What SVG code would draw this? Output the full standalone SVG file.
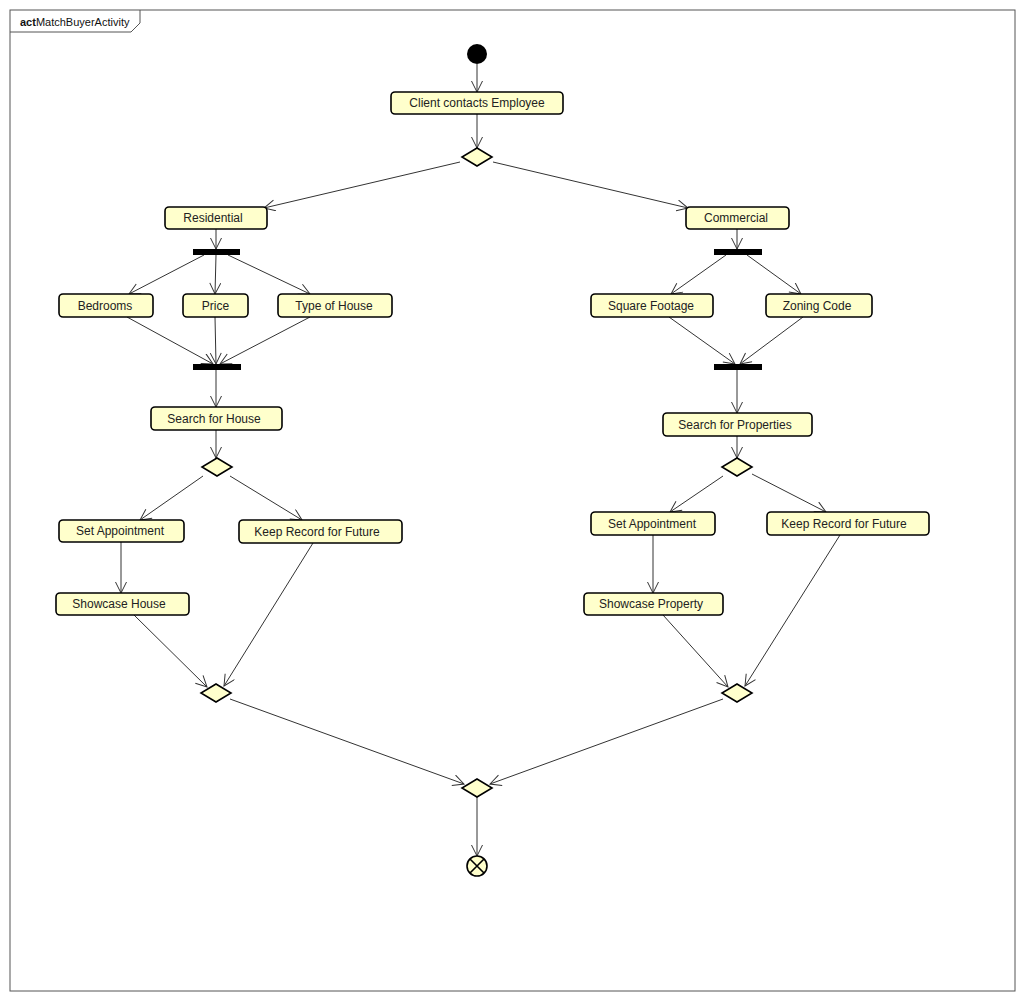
<svg xmlns="http://www.w3.org/2000/svg" width="1024" height="1000" viewBox="0 0 1024 1000">
<style>
.n{fill:#ffffcc;stroke:#000;stroke-width:1.6}
.t{font-family:"Liberation Sans",Arial,sans-serif;font-size:12px;fill:#222;text-anchor:middle;dominant-baseline:central}
.b{fill:#000}
.e{fill:none;stroke:#333;stroke-width:1;marker-end:url(#a)}
</style>
<defs>
<marker id="a" markerUnits="userSpaceOnUse" markerWidth="14" markerHeight="14" refX="12" refY="6" orient="auto">
<path d="M1,0.5 L12,6 L1,11.5" fill="none" stroke="#333" stroke-width="1"/>
</marker>
</defs>
<rect width="1024" height="1000" fill="#fff"/>
<g id="frame">
<rect x="10" y="10" width="1005" height="981" fill="none" stroke="#555" stroke-width="1"/>
<path d="M10,32 L131,32 L140,23 L140,10" fill="none" stroke="#555" stroke-width="1"/>
<text x="20" y="22" font-family="Liberation Sans,Arial,sans-serif" font-size="11" fill="#111" dominant-baseline="central"><tspan font-weight="bold">act</tspan>MatchBuyerActivity</text>
</g>
<g id="connectors">
<line class="e" x1="477" y1="64" x2="477" y2="92"/>
<line class="e" x1="477" y1="114" x2="477" y2="148"/>
<line class="e" x1="460" y1="162" x2="264" y2="208"/>
<line class="e" x1="493" y1="162" x2="688" y2="208"/>
<line class="e" x1="216" y1="229" x2="216" y2="249"/>
<line class="e" x1="204" y1="255" x2="129" y2="294"/>
<line class="e" x1="216" y1="255" x2="215" y2="294"/>
<line class="e" x1="228" y1="255" x2="310" y2="294"/>
<line class="e" x1="127" y1="317" x2="213" y2="364"/>
<line class="e" x1="215" y1="317" x2="216" y2="364"/>
<line class="e" x1="310" y1="317" x2="220" y2="364"/>
<line class="e" x1="216" y1="370" x2="216" y2="407"/>
<line class="e" x1="216" y1="430" x2="216" y2="458"/>
<line class="e" x1="203" y1="476" x2="140" y2="520"/>
<line class="e" x1="230" y1="476" x2="302" y2="520"/>
<line class="e" x1="121" y1="542" x2="121" y2="593"/>
<line class="e" x1="134" y1="615" x2="207" y2="687"/>
<line class="e" x1="313" y1="543" x2="224" y2="686"/>
<line class="e" x1="230" y1="699" x2="464" y2="784"/>
<line class="e" x1="723" y1="699" x2="490" y2="784"/>
<line class="e" x1="477" y1="797" x2="477" y2="856"/>
<line class="e" x1="737" y1="229" x2="737" y2="249"/>
<line class="e" x1="726" y1="255" x2="671" y2="294"/>
<line class="e" x1="747" y1="255" x2="801" y2="294"/>
<line class="e" x1="669" y1="317" x2="735" y2="364"/>
<line class="e" x1="803" y1="317" x2="740" y2="364"/>
<line class="e" x1="737" y1="370" x2="737" y2="413"/>
<line class="e" x1="737" y1="436" x2="737" y2="458"/>
<line class="e" x1="723" y1="476" x2="670" y2="512"/>
<line class="e" x1="752" y1="474" x2="826" y2="512"/>
<line class="e" x1="653" y1="535" x2="653" y2="593"/>
<line class="e" x1="663" y1="615" x2="728" y2="687"/>
<line class="e" x1="840" y1="535" x2="745" y2="686"/>
</g>
<g id="start"><circle cx="477" cy="54" r="10" fill="#000"/></g>
<g id="clientContacts"><rect class="n" x="391" y="92" width="172" height="22" rx="4"/><text class="t" x="477" y="103">Client contacts Employee</text></g>
<g id="decision1"><polygon class="n" points="477,148 492,157 477,166 462,157"/></g>
<g id="residential"><rect class="n" x="165" y="207" width="102" height="22" rx="4"/><text class="t" x="213" y="218">Residential</text></g>
<g id="commercial"><rect class="n" x="686" y="207" width="103" height="22" rx="4"/><text class="t" x="736" y="218">Commercial</text></g>
<g id="forkL"><rect class="b" x="193" y="249" width="47" height="6"/></g>
<g id="forkR"><rect class="b" x="714" y="249" width="48" height="6"/></g>
<g id="bedrooms"><rect class="n" x="59" y="294" width="94" height="23" rx="4"/><text class="t" x="105" y="305.5">Bedrooms</text></g>
<g id="price"><rect class="n" x="183" y="294" width="65" height="23" rx="4"/><text class="t" x="215.5" y="305.5">Price</text></g>
<g id="typeOfHouse"><rect class="n" x="278" y="294" width="114" height="23" rx="4"/><text class="t" x="334" y="305.5">Type of House</text></g>
<g id="squareFootage"><rect class="n" x="591" y="294" width="122" height="23" rx="4"/><text class="t" x="651" y="305.5">Square Footage</text></g>
<g id="zoningCode"><rect class="n" x="766" y="294" width="106" height="23" rx="4"/><text class="t" x="817" y="305.5">Zoning Code</text></g>
<g id="joinL"><rect class="b" x="193" y="364" width="48" height="6"/></g>
<g id="joinR"><rect class="b" x="714" y="364" width="48" height="6"/></g>
<g id="searchHouse"><rect class="n" x="151" y="407" width="131" height="23" rx="4"/><text class="t" x="214" y="418.5">Search for House</text></g>
<g id="searchProps"><rect class="n" x="663" y="413" width="149" height="23" rx="4"/><text class="t" x="735" y="424.5">Search for Properties</text></g>
<g id="decisionL"><polygon class="n" points="217,458 232,467 217,476 202,467"/></g>
<g id="decisionR"><polygon class="n" points="737,458 752,467 737,476 722,467"/></g>
<g id="setApptL"><rect class="n" x="59" y="520" width="125" height="22" rx="4"/><text class="t" x="120" y="531">Set Appointment</text></g>
<g id="keepRecordL"><rect class="n" x="239" y="520" width="163" height="23" rx="4"/><text class="t" x="317" y="531.5">Keep Record for Future</text></g>
<g id="setApptR"><rect class="n" x="591" y="512" width="124" height="23" rx="4"/><text class="t" x="652" y="523.5">Set Appointment</text></g>
<g id="keepRecordR"><rect class="n" x="767" y="512" width="162" height="23" rx="4"/><text class="t" x="844" y="523.5">Keep Record for Future</text></g>
<g id="showcaseHouse"><rect class="n" x="56" y="593" width="133" height="22" rx="4"/><text class="t" x="119" y="604">Showcase House</text></g>
<g id="showcaseProperty"><rect class="n" x="584" y="593" width="139" height="22" rx="4"/><text class="t" x="651" y="604">Showcase Property</text></g>
<g id="mergeL"><polygon class="n" points="216,684 231,693 216,702 201,693"/></g>
<g id="mergeR"><polygon class="n" points="737,684 752,693 737,702 722,693"/></g>
<g id="mergeFinal"><polygon class="n" points="477,779 492,788 477,797 462,788"/></g>
<g id="end"><circle class="n" cx="477" cy="866" r="10"/><path d="M470,859 L484,873 M484,859 L470,873" stroke="#000" stroke-width="1.6"/></g>
</svg>
